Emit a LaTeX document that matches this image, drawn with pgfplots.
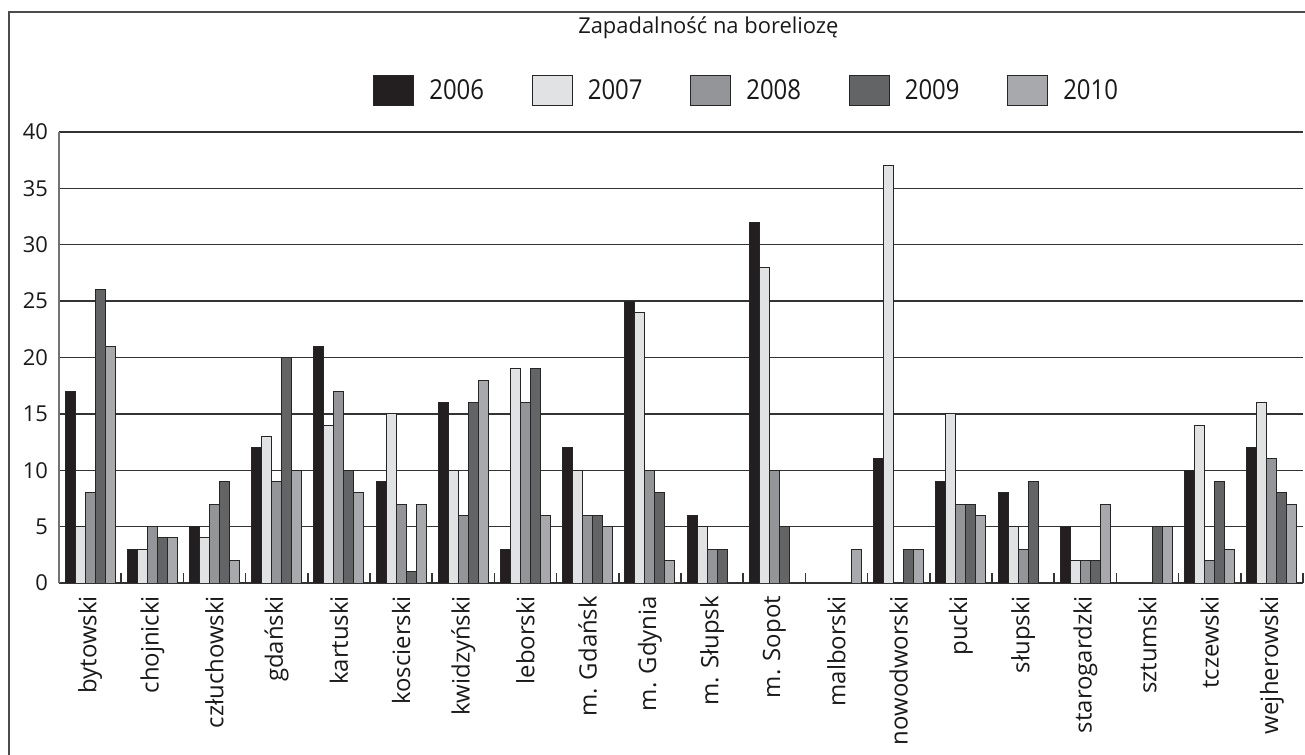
\documentclass[border=0pt]{standalone}
\usepackage{fontspec}
\setmainfont{Open Sans}
\usepackage{pgfplots}
\usepackage{pgfplotstable}
\pgfplotsset{compat=1.18}

\definecolor{c06}{HTML}{231F20}
\definecolor{c07}{HTML}{E1E2E4}
\definecolor{c08}{HTML}{939598}
\definecolor{c09}{HTML}{636466}
\definecolor{c10}{HTML}{A7A9AC}

% incidence per county, 2006-2010
\pgfplotstableread{
x  y06 y07 y08 y09 y10
0  17  5   8   26  21
1  3   3   5   4   4
2  5   4   7   9   2
3  12  13  9   20  10
4  21  14  17  10  8
5  9   15  7   1   7
6  16  10  6   16  18
7  3   19  16  19  6
8  12  10  6   6   5
9  25  24  10  8   2
10 6   5   3   3   0
11 32  28  10  5   0
12 0   0   0   0   3
13 11  37  0   3   3
14 9   15  7   7   6
15 8   5   3   9   0
16 5   2   2   2   7
17 0   0   0   5   5
18 10  14  2   9   3
19 12  16  11  8   7
}\data

\newcommand\yr[1]{\scalebox{1}[1.15]{#1}}

\begin{document}
\begin{tikzpicture}
  \begin{axis}[
    at={(29.5bp,86bp)}, anchor=south west,
    scale only axis, width=622bp, height=225.5bp,
    ybar=0pt, bar width=5bp,
    xmin=-0.5, xmax=19.5, ymin=0, ymax=40,
    axis x line*=bottom, axis y line*=left,
    x axis line style={black!80, line width=0.8bp},
    y axis line style={black!55, line width=0.8bp},
    xtick={0,...,19},
    xticklabels={bytowski, chojnicki, człuchowski, gdański, kartuski,
      koscierski, kwidzyński, leborski, m. Gdańsk, m. Gdynia, m. Słupsk,
      m. Sopot, malborski, nowodworski, pucki, słupski, starogardzki,
      sztumski, tczewski, wejherowski},
    minor xtick={-0.5,0.5,...,19.5},
    major tick length=0pt, minor tick length=5bp,
    tick align=inside,
    minor tick style={black!80, line width=0.8bp},
    ytick={0,5,...,40},
    ymajorgrids,
    major grid style={black!80, line width=0.7bp},
    /pgf/number format/assume math mode=true,
    xticklabel style={rotate=90, anchor=east, font=\fontsize{12}{14}\selectfont, xshift=-3bp, text=black!90},
    yticklabel style={font=\fontsize{11}{13}\selectfont, xshift=-2bp, text=black!90},
    title={Zapadalność na boreliozę},
    title style={at={(0.522,1.193)}, anchor=base, font=\fontsize{11}{13}\selectfont, text=black!90},
    legend columns=5,
    legend style={at={(0.552,1.091)}, anchor=center, draw=none,
      font=\fontsize{12}{14}\selectfont, text=black!90,
      column sep=0pt, nodes={inner xsep=0pt},
      /tikz/every even column/.append style={column sep=23.9bp}},
    legend image code/.code={\draw[#1] (0bp,-7.5bp) rectangle (20bp,7.5bp); \path (27.5bp,0);},
    every axis plot/.append style={draw=black!85, line width=0.5bp},
  ]
    \addplot[fill=c06] table[x=x, y=y06] {\data};
    \addplot[fill=c07] table[x=x, y=y07] {\data};
    \addplot[fill=c08] table[x=x, y=y08] {\data};
    \addplot[fill=c09] table[x=x, y=y09] {\data};
    \addplot[fill=c10] table[x=x, y=y10] {\data};
    \legend{\yr{2006}, \yr{2007}, \yr{2008}, \yr{2009}, \yr{2010}}
  \end{axis}
  % outer frame, cut off at the right and bottom
  \draw[black!70, line width=0.8bp] (4.5bp,0) -- (4.5bp,371.5bp) -- (652.5bp,371.5bp);
  \pgfresetboundingbox
  \useasboundingbox (0,0) rectangle (652.5bp,377.5bp);
\end{tikzpicture}
\end{document}
